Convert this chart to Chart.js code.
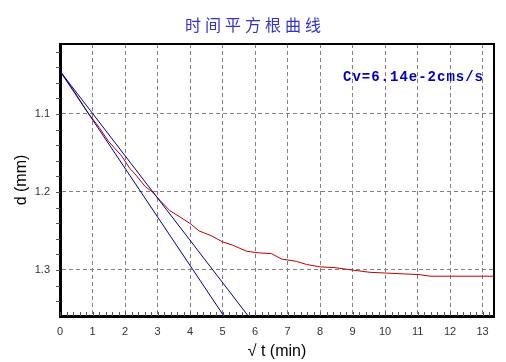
<!DOCTYPE html>
<html lang="zh">
<head>
<meta charset="utf-8" />
<title>时间平方根曲线</title>
<script src="https://cdn.jsdelivr.net/npm/chart.js"></script>
<style>
    html, body { margin: 0; padding: 0; background: #fff; }
    #wrap { width: 506px; height: 362px; position: relative; }
</style>
</head>
<body>
<div id="wrap"><canvas id="chart"></canvas></div>
<script>
    // measured curve: sqrt(t) in min^0.5, d in mm
    const sqrtT = [0, 0.45, 0.87, 1.2, 1.49, 1.9, 2.15, 2.31, 2.62, 2.87, 3.08, 3.38, 3.69, 4.02, 4.28, 4.65,
        5.0, 5.3, 5.74, 6.1, 6.5, 6.82, 7.28, 7.59, 8.0, 8.46, 8.97, 9.54, 10.05, 10.56, 11.08, 11.38, 12.0, 13.35];
    const dValues = [1.045, 1.072, 1.099, 1.117, 1.135, 1.154, 1.170, 1.177, 1.193, 1.201, 1.211, 1.224, 1.232, 1.241,
        1.250, 1.256, 1.264, 1.268, 1.276, 1.278, 1.279, 1.286, 1.289, 1.293, 1.296, 1.297, 1.300, 1.303, 1.304,
        1.305, 1.306, 1.308, 1.308, 1.308];

    // construction lines (initial tangent and 1.15x line)
    const lineSteepX = [0, 5.04];
    const lineSteepD = [1.045, 1.359];
    const lineTangentX = [0, 5.79];
    const lineTangentD = [1.045, 1.359];

    const xTicks = [0, 1, 2, 3, 4, 5, 6, 7, 8, 9, 10, 11, 12, 13];
    const yTicks = [1.1, 1.2, 1.3];

    const titleText = '时间平方根曲线';
    const cvText = 'Cv=6.14e-2cms/s';

    function pts(xs, ys) {
        return xs.map(function (x, i) { return { x: x, y: ys[i] }; });
    }

    const frame = {
        id: 'frame',
        afterDraw: function (chart) {
            const ctx = chart.ctx;
            const a = chart.chartArea;
            const x = chart.scales.x;
            const y = chart.scales.y;
            ctx.save();

            // minor ticks
            ctx.strokeStyle = '#555';
            ctx.lineWidth = 1;
            ctx.beginPath();
            for (let i = 0; i <= 70; i++) {
                const px = Math.round(x.getPixelForValue(i * 0.2)) + 0.5;
                if (px > a.right) break;
                ctx.moveTo(px, a.bottom);
                ctx.lineTo(px, a.bottom - 4);
            }
            for (let i = 51; i <= 68; i++) {
                const py = Math.round(y.getPixelForValue(i * 0.02)) + 0.5;
                if (py < a.top || py > a.bottom) continue;
                ctx.moveTo(a.left, py);
                ctx.lineTo(a.left - 4, py);
            }
            ctx.stroke();

            // top and right frame
            ctx.strokeStyle = '#000';
            ctx.lineWidth = 2;
            ctx.beginPath();
            ctx.moveTo(a.left, a.top);
            ctx.lineTo(a.right, a.top);
            ctx.lineTo(a.right, a.bottom);
            ctx.stroke();

            // title, centred on the canvas
            ctx.fillStyle = '#3333cc';
            ctx.font = '16px "Noto Sans CJK SC", sans-serif';
            ctx.letterSpacing = '4px';
            ctx.textAlign = 'center';
            ctx.textBaseline = 'middle';
            ctx.fillText(titleText, chart.width / 2 + 2, 25);

            // Cv note
            ctx.fillStyle = '#0000c0';
            ctx.font = 'bold 14px "Liberation Mono", monospace';
            ctx.letterSpacing = '1px';
            ctx.textAlign = 'right';
            ctx.fillText(cvText, a.right - 10, 77);
            ctx.restore();
        }
    };

    new Chart(document.getElementById('chart'), {
        type: 'line',
        data: {
            datasets: [{
                data: pts(lineSteepX, lineSteepD),
                borderColor: '#000090',
                borderWidth: 1,
                pointRadius: 0
            }, {
                data: pts(lineTangentX, lineTangentD),
                borderColor: '#000090',
                borderWidth: 1,
                pointRadius: 0
            }, {
                data: pts(sqrtT, dValues),
                borderColor: '#c00000',
                borderWidth: 1,
                pointRadius: 0,
                tension: 0
            }]
        },
        plugins: [frame],
        options: {
            responsive: true,
            maintainAspectRatio: false,
            animation: false,
            layout: { padding: { top: 44, right: 12, left: 0, bottom: 0 } },
            plugins: {
                legend: { display: false },
                tooltip: { enabled: false },
                title: { display: false }
            },
            scales: {
                x: {
                    type: 'linear',
                    min: 0,
                    max: 13.35,
                    afterFit: function (s) { s.height = 46; },
                    afterBuildTicks: function (s) { s.ticks = xTicks.map(function (v) { return { value: v }; }); },
                    grid: {
                        color: '#808080',
                        lineWidth: 1,
                        drawTicks: false
                    },
                    border: { display: true, color: '#000', width: 3, dash: [4, 3] },
                    ticks: {
                        padding: 9,
                        color: '#333',
                        maxRotation: 0,
                        font: { family: '"Liberation Sans", Arial, sans-serif', size: 11 }
                    },
                    title: {
                        display: true,
                        text: '√ t (min)',
                        color: '#000',
                        font: { family: '"Liberation Sans", Arial, sans-serif', size: 16 },
                        padding: { top: 1, bottom: 1 }
                    }
                },
                y: {
                    type: 'linear',
                    reverse: true,
                    min: 1.0103,
                    max: 1.359,
                    afterFit: function (s) { s.width = 60; },
                    afterBuildTicks: function (s) { s.ticks = yTicks.map(function (v) { return { value: v }; }); },
                    grid: {
                        color: '#808080',
                        lineWidth: 1,
                        drawTicks: false
                    },
                    border: { display: true, color: '#000', width: 3, dash: [4, 3] },
                    ticks: {
                        padding: 10,
                        color: '#333',
                        font: { family: '"Liberation Sans", Arial, sans-serif', size: 11 },
                        callback: function (v) { return v.toFixed(1); }
                    },
                    title: {
                        display: true,
                        text: 'd (mm)',
                        color: '#000',
                        font: { family: '"Liberation Sans", Arial, sans-serif', size: 16 },
                        padding: { top: 12, bottom: 12 }
                    }
                }
            }
        }
    });
</script>
</body>
</html>
